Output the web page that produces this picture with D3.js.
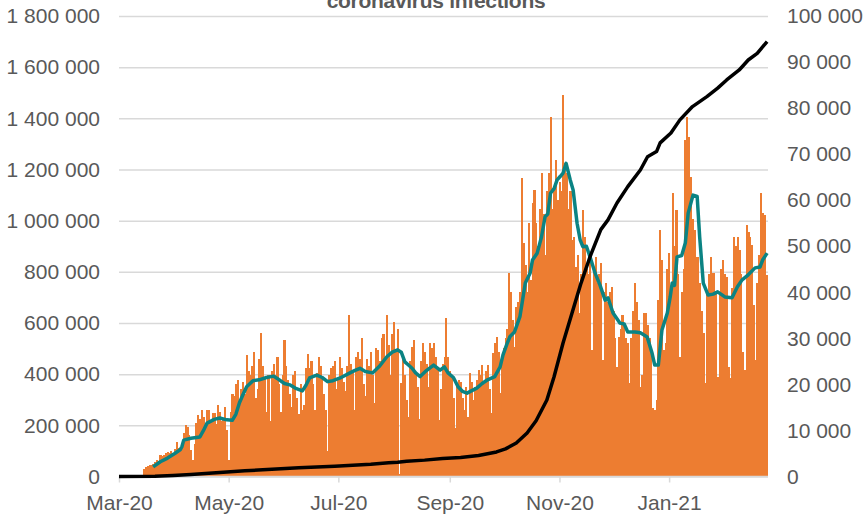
<html lang="en">
<head>
<meta charset="UTF-8">
<title>Coronavirus infections</title>
<style>
  body { margin: 0; background: #fff; }
  svg text { font-family: "Liberation Sans", Arial, sans-serif; fill: #595959; }
</style>
</head>
<body>
<svg id="chart" width="866" height="515"></svg>
<script src="https://d3js.org/d3.v7.min.js"></script>
<script>
// daily values (thousands, right axis), one per day from 15 Mar 2020
const barStart = "2020-03-15";
const dailyK = [
  1.6, 2.0, 2.3, 2.5, 2.4, 2.8, 3.2, 3.5, 3.0, 4.7,
  4.5, 4.6, 5.1, 5.4, 5.2, 5.5, 5.0, 6.0, 7.6, 6.2,
  5.8, 6.8, 9.4, 11.2, 10.8, 9.0, 5.7, 3.5, 7.0, 11.6,
  13.4, 12.5, 14.4, 13.0, 10.5, 14.4, 14.4, 12.0, 13.8, 13.8,
  11.5, 15.5, 14.0, 12.0, 12.5, 15.0, 10.0, 3.5, 14.0, 18.0,
  17.5, 20.0, 21.0, 16.0, 19.0, 20.5, 18.0, 26.4, 23.0, 22.0,
  24.0, 27.0, 17.0, 19.0, 25.5, 31.2, 24.0, 21.5, 14.0, 22.0,
  12.0, 23.0, 24.5, 22.0, 26.0, 20.0, 14.0, 22.0, 29.6, 24.0,
  21.0, 18.0, 15.0, 22.0, 23.0, 17.0, 13.5, 20.0, 14.4, 15.5,
  23.5, 26.5, 23.5, 25.0, 20.0, 14.5, 22.5, 26.0, 24.0, 21.5,
  18.0, 14.5, 5.5, 22.0, 23.5, 24.0, 25.0, 19.0, 21.0, 26.0,
  23.5, 20.5, 18.5, 24.0, 35.0, 24.5, 22.5, 14.5, 26.0, 27.0,
  25.5, 30.0, 20.0, 17.5, 25.5, 24.0, 27.0, 22.0, 16.0, 28.0,
  27.5, 25.0, 30.0, 31.0, 26.0, 35.0, 28.5, 22.0, 31.0, 33.6,
  27.0, 32.0, 0.5, 20.3, 26.0, 22.0, 16.6, 13.0, 25.0, 28.2,
  29.6, 22.0, 19.5, 12.5, 25.0, 29.0, 27.0, 24.5, 19.5, 29.0,
  28.0, 29.0, 26.0, 23.5, 12.3, 19.0, 24.5, 26.0, 34.4, 26.0,
  23.0, 21.5, 17.0, 10.5, 20.0, 21.0, 20.5, 17.0, 14.4, 19.5,
  13.0, 22.5, 20.5, 16.6, 19.5, 21.0, 23.1, 22.0, 24.2, 20.0,
  23.0, 24.2, 19.0, 13.8, 26.8, 29.0, 30.4, 27.0, 18.1, 25.0,
  28.0, 30.0, 32.0, 44.2, 40.0, 34.0, 28.2, 36.9, 38.0, 40.0,
  64.8, 50.7, 46.0, 40.0, 55.0, 42.7, 59.4, 62.2, 55.0, 50.0,
  58.0, 65.9, 57.0, 48.0, 62.0, 66.0, 78.0, 58.0, 63.0, 68.7,
  60.0, 64.0, 62.0, 82.8, 68.0, 66.0, 58.0, 62.0, 51.4, 52.0,
  45.6, 48.0, 35.5, 44.0, 57.9, 52.0, 45.0, 44.0, 47.7, 27.5,
  45.0, 47.7, 42.0, 44.0, 46.4, 25.3, 40.0, 42.0, 38.0, 40.0,
  41.2, 36.0, 30.0, 23.8, 30.4, 32.0, 35.0, 33.0, 30.0, 29.0,
  20.3, 30.0, 36.0, 42.0, 38.0, 34.0, 19.5, 22.0, 35.5, 35.5,
  33.0, 30.0, 28.0, 14.9, 14.4, 16.6, 38.3, 53.5, 47.0, 27.5,
  29.0, 45.0, 48.5, 40.0, 61.5, 50.0, 57.9, 44.0, 26.0, 40.0,
  45.0, 73.0, 78.1, 73.8, 65.0, 56.0, 53.5, 47.7, 47.7, 42.0,
  36.0, 31.2, 20.3, 40.5, 44.0, 47.7, 44.2, 44.2, 40.0, 21.7,
  40.0, 45.0, 47.0, 44.0, 43.4, 23.8, 21.4, 41.0, 52.0, 50.0,
  52.0, 49.2, 44.0, 27.0, 23.1, 54.6, 53.0, 52.0, 50.3, 37.2,
  25.3, 42.0, 48.0, 61.5, 57.2, 56.8, 43.8
];

// 7-day average (thousands, right axis): days after 1 Mar 2020
const avgDay = [19, 23, 27, 31, 34, 35, 36, 40, 45, 47, 49, 53, 56, 60, 63, 65, 67, 69, 71, 74.5,
  78, 82, 86, 88, 92, 95, 98, 102, 104, 106, 110, 113, 116, 119, 123, 128.5, 131, 134, 137, 141,
  145, 149, 152, 155, 157, 159, 161, 163, 165, 167.5, 171, 175, 178.6, 181, 183, 186, 188.6, 191, 193.6, 196,
  199, 202, 205, 209, 212, 213.6, 216, 217.5, 220, 223, 226, 228.7, 230, 232.6, 235, 237, 238.5, 240, 242, 243.7,
  245.5, 247, 248.7, 251, 252.6, 254.8, 256.5, 258, 260, 262, 264.8, 267.6, 270.4, 272, 274.8, 278.7, 281, 283, 287, 290,
  293.8, 296.5, 298, 300, 302, 305, 306.6, 307.7, 309, 310.4, 313, 315, 316.6, 319.3, 321.6, 323, 325, 327.7, 330.5, 333,
  337, 341, 344, 346.6, 350, 353.8, 356.6, 358, 360.5];
const avgK = [2.1, 3.2, 4.0, 5.0, 5.8, 6.5, 7.9, 8.3, 8.6, 10, 11.6, 12.4, 12.7, 12.3, 12.2, 13.5, 16, 17.8, 19.5, 20.8,
  21, 21.5, 21.8, 21.3, 20.2, 19.9, 19.2, 18.6, 19.8, 21.4, 22, 21.5, 20.6, 20.8, 21.4, 22.5, 23, 23.5, 22.8, 22.5,
  24, 26, 27, 27.5, 27, 24.9, 24.2, 23.5, 22.5, 21.7, 23, 24.2, 23.1, 23.8, 22.5, 21.5, 19.5, 18.5, 18.1, 18.6,
  19.2, 20.2, 21, 21.7, 23.8, 26.4, 29, 30.4, 31.4, 34.7, 42, 44.2, 47, 48.5, 52, 56.4, 57, 61.5, 62.5, 64.4,
  65.2, 65.9, 68, 64.4, 62.2, 55, 51.4, 49.9, 50, 47.7, 44.2, 41.5, 38.3, 38.8, 35.5, 33.3, 33.1, 31.4, 31.4, 31.2,
  30.3, 26.8, 24.2, 24.2, 31.8, 35.5, 39, 42, 41.5, 47.7, 48, 50.7, 57.2, 61.1, 60.8, 52, 42, 39.4, 39.6, 40.1,
  39, 38.8, 41.2, 42.7, 43.8, 45.3, 45.5, 47, 48.5];

// cumulative total (millions, left axis): days after 1 Mar 2020
const cumDay = [0, 20, 30, 40, 50, 60, 70, 80, 90, 100, 110, 120, 130, 140, 150, 155, 160, 170, 180, 190,
  200, 210, 215, 221, 227, 232, 238, 242, 247, 252, 257, 262, 268, 272, 277, 283, 290, 294, 299, 301,
  307, 312, 319, 327, 333, 338, 345, 350, 355, 360.5];
const cumM = [0, 0.001, 0.004, 0.008, 0.013, 0.018, 0.022, 0.026, 0.030, 0.034, 0.037, 0.040, 0.044, 0.048, 0.054, 0.056, 0.060, 0.064, 0.070, 0.074,
  0.082, 0.096, 0.108, 0.131, 0.170, 0.218, 0.299, 0.390, 0.522, 0.639, 0.756, 0.859, 0.965, 1.003, 1.069, 1.133, 1.198, 1.250, 1.270, 1.304,
  1.343, 1.394, 1.446, 1.485, 1.518, 1.550, 1.589, 1.628, 1.654, 1.700];

const tickDates = ["2020-03-01", "2020-05-01", "2020-07-01", "2020-09-01", "2020-11-01", "2021-01-01"];
const tickLabels = ["Mar-20", "May-20", "Jul-20", "Sep-20", "Nov-20", "Jan-21"];

const svg = d3.select("#chart");
const plotLeft = 119, plotRight = 768, plotTop = 16, plotBottom = 476.5;
const parse = d3.timeParse("%Y-%m-%d");
const origin = parse("2020-03-01");
const atDay = d => new Date(origin.getTime() + d * 864e5);

const x = d3.scaleTime().domain([origin, atDay(361)]).range([plotLeft, plotRight]);
const yL = d3.scaleLinear().domain([0, 1.8]).range([plotBottom, plotTop]);
const yR = d3.scaleLinear().domain([0, 100]).range([plotBottom, plotTop]);
const spaced = v => d3.format(",")(Math.round(v)).replace(/,/g, " ");

// gridlines from the left axis
svg.append("g")
    .attr("transform", `translate(${plotLeft},0)`)
    .call(d3.axisLeft(yL).tickValues(d3.range(0, 1.81, 0.2)).tickSize(-(plotRight - plotLeft)).tickFormat(""))
    .call(g => g.select(".domain").remove())
    .call(g => g.selectAll("line").attr("stroke", "#d9d9d9").attr("stroke-width", 1.5));

// bars (slightly overlapping so neighbours merge like the source)
const s0 = parse(barStart);
const bw = x(atDay(1)) - x(atDay(0));
svg.append("g")
    .attr("shape-rendering", "crispEdges")
    .selectAll("rect")
    .data(dailyK)
    .enter().append("rect")
    .attr("x", (d, i) => x(d3.timeDay.offset(s0, i)) - bw / 2)
    .attr("width", bw + 0.4)
    .attr("y", d => yR(d))
    .attr("height", d => plotBottom - yR(d))
    .attr("fill", "#ed7d31");

// x axis
const xAxis = svg.append("g")
    .attr("transform", `translate(0,${plotBottom})`)
    .call(d3.axisBottom(x).tickValues(tickDates.map(parse)).tickSize(6).tickPadding(10)
        .tickFormat((d, i) => tickLabels[i]));
xAxis.select(".domain").attr("stroke", "#d9d9d9").attr("stroke-width", 1.5).attr("d", `M${plotLeft},0H${plotRight}`);
xAxis.selectAll("line").attr("stroke", "#d9d9d9").attr("stroke-width", 1.5);
xAxis.selectAll("text").attr("font-size", 21).attr("fill", "#595959").attr("dy", "0.85em");

// 7-day average line
const avgLine = d3.line().x(d => x(atDay(d[0]))).y(d => yR(d[1]));
svg.append("path")
    .datum(avgDay.map((d, i) => [d, avgK[i]]))
    .attr("d", avgLine)
    .attr("fill", "none")
    .attr("stroke", "#0b8383")
    .attr("stroke-width", 3.5)
    .attr("stroke-linejoin", "round");

// cumulative line
const cumLine = d3.line().x(d => x(atDay(d[0]))).y(d => yL(d[1]));
svg.append("path")
    .datum(cumDay.map((d, i) => [d, cumM[i]]))
    .attr("d", cumLine)
    .attr("fill", "none")
    .attr("stroke", "#000")
    .attr("stroke-width", 3.5)
    .attr("stroke-linejoin", "round");

// y axis labels
const yLeft = svg.append("g")
    .attr("transform", `translate(100,0)`)
    .call(d3.axisLeft(yL).tickValues(d3.range(0, 1.81, 0.2)).tickSize(0).tickPadding(0)
        .tickFormat(v => spaced(v * 1e6)));
yLeft.select(".domain").remove();
yLeft.selectAll("text").attr("font-size", 21).attr("fill", "#595959");

const yRight = svg.append("g")
    .attr("transform", `translate(787,0)`)
    .call(d3.axisRight(yR).tickValues(d3.range(0, 101, 10)).tickSize(0).tickPadding(0)
        .tickFormat(v => spaced(v * 1000)));
yRight.select(".domain").remove();
yRight.selectAll("text").attr("font-size", 21).attr("fill", "#595959");

// title (its upper part sits above the frame in the source)
svg.append("text")
    .attr("x", 436)
    .attr("y", 8)
    .attr("text-anchor", "middle")
    .attr("font-size", 21)
    .attr("font-weight", "bold")
    .attr("letter-spacing", -0.3)
    .text("coronavirus infections");
</script>
</body>
</html>
